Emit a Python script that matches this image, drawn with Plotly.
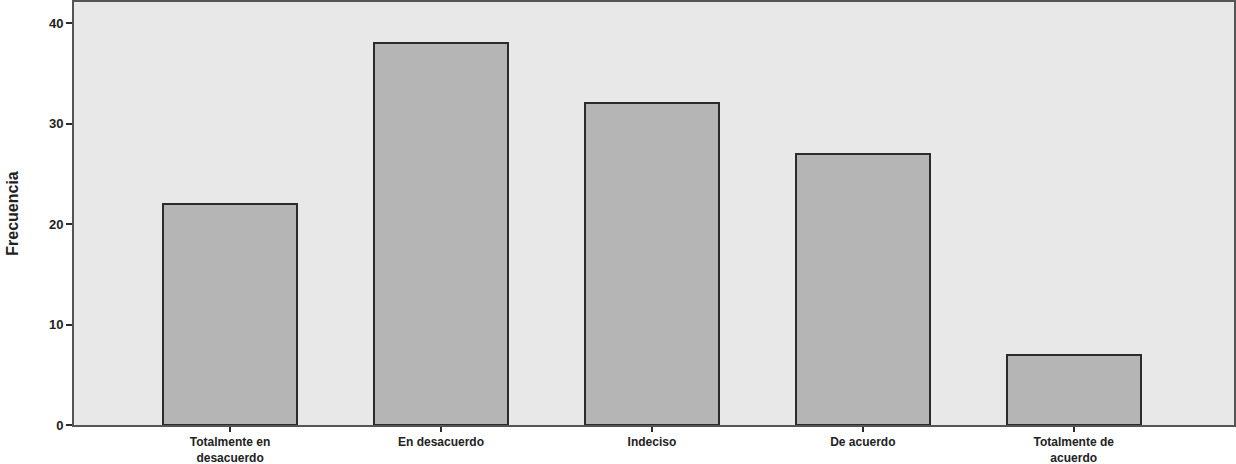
import plotly.graph_objects as go

categorias = ['Totalmente en<br>desacuerdo', 'En desacuerdo', 'Indeciso', 'De acuerdo', 'Totalmente de<br>acuerdo']
frecuencias = [22, 38, 32, 27, 7]
y_ticks = [0, 10, 20, 30, 40]

fig = go.Figure(go.Bar(
    x=list(range(len(categorias))),
    y=frecuencias,
    width=0.635,
    marker=dict(color='#b5b5b5', line=dict(color='#2b2b2b', width=2)),
))

fig.update_layout(
    width=1236, height=464,
    margin=dict(l=74, r=2, t=2, b=39),
    paper_bgcolor='white',
    plot_bgcolor='#e8e8e8',
    font=dict(family='Liberation Sans, Arial, sans-serif', color='#222222', size=11),
    showlegend=False,
    bargap=0,
)

fig.update_xaxes(
    range=[-0.74, 4.76],
    tickmode='array',
    tickvals=list(range(len(categorias))),
    ticktext=categorias,
    ticks='outside', ticklen=5, tickwidth=2, tickcolor='#2b2b2b',
    showline=True, linecolor='#555555', linewidth=2, mirror=True,
    showgrid=False, zeroline=False, automargin=False,
    tickfont=dict(size=12, weight='bold'),
)

fig.update_yaxes(
    range=[0, 42.1],
    tickmode='array',
    tickvals=y_ticks,
    ticks='outside', ticklen=6, tickwidth=2, tickcolor='#2b2b2b',
    showline=True, linecolor='#555555', linewidth=2, mirror=True,
    showgrid=False, zeroline=False, automargin=False,
    tickfont=dict(size=13, weight='bold'),
    title=dict(text='Frecuencia', standoff=26,
               font=dict(family='Liberation Sans Narrow, Liberation Sans, Arial, sans-serif',
                         size=16, weight='bold')),
)

# el navegador deja 8px de margen en el body; lo quitamos
fig.write_html("out.html", config={'displayModeBar': False},
               post_script="document.body.style.margin='0';")
